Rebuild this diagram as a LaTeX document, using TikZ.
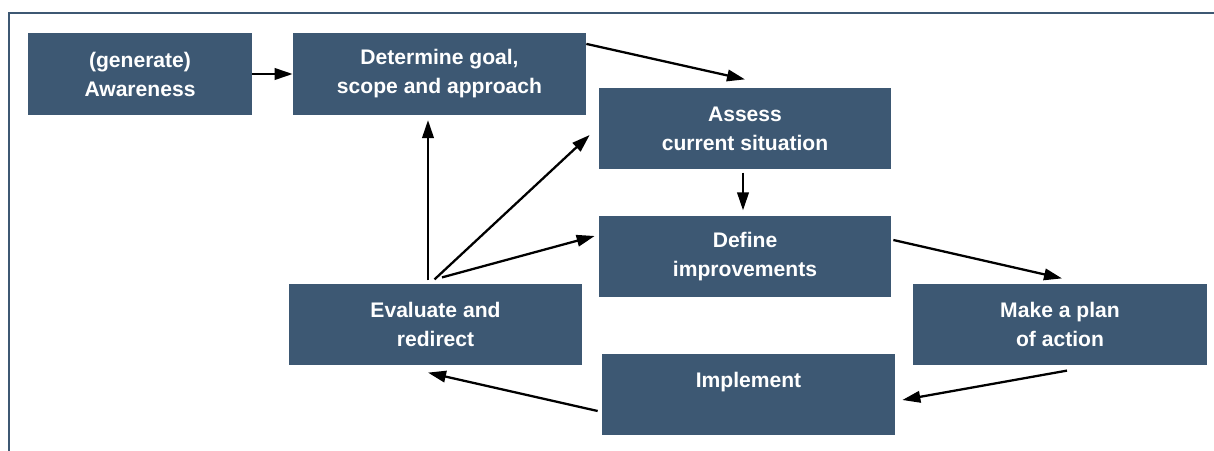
\documentclass[tikz,border=0pt]{standalone}
\usepackage{fontspec}
\setmainfont{Liberation Sans}
\usetikzlibrary{calc,arrows.meta}

\definecolor{boxblue}{RGB}{61,88,115}

\tikzset{
  box/.style={fill=boxblue, text=white, align=center, inner sep=0pt,
    minimum height=16.3mm, font=\bfseries\fontsize{12}{16.5}\selectfont},
  flow/.style={-{Triangle[length=3.6mm,width=2.3mm]}, line width=1.3pt}
}

\begin{document}
\begin{tikzpicture}[x=0.2mm,y=-0.2mm]
    \useasboundingbox (0,0) rectangle (1214,451);
    % frame
    \draw[boxblue, line width=1.3pt] (9,451) -- (9,13) -- (1214,13);

    % steps of the cycle
    \node[box, minimum width=44.8mm] (aware) at (140,74) {(generate)\\Awareness};
    \node[box, minimum width=58.6mm] (goal) at (439.5,74) {Determine goal,\\scope and approach};
    \node[box, minimum width=58.4mm] (assess) at (745,128.5) {Assess\\current situation};
    \node[box, minimum width=58.4mm] (define) at (745,256.5) {Define\\improvements};
    \node[box, minimum width=58.8mm] (plan) at (1060,324.5) {Make a plan\\of action};
    \node[box, minimum width=58.6mm] (impl) at (748.5,394.5) {Implement\\\mbox{}};
    \node[box, minimum width=58.6mm] (eval) at (435.5,324.5) {Evaluate and\\redirect};

    % arrows
    \draw[flow] (aware) -- (goal);
    \draw[flow] ($(goal.north east)+(0,11)$) -- ($(assess.north)+(0,-8)$);
    \draw[flow, shorten <=0.6mm, shorten >=1mm] ($(assess.south)+(-2,0)$) -- ($(define.north)+(-2,0)$);
    \draw[flow] ($(define.east)+(2,-16.5)$) -- ($(plan.north)+(2,-5)$);
    \draw[flow] ($(plan.south)+(7,5)$) -- ($(impl.east)+(7,5.5)$);
    \draw[flow] ($(impl.west)+(-4,16.5)$) -- ($(eval.south)+(-7.5,7)$);

    % back from evaluation
    \draw[flow] ($(eval.north)+(-7.5,-3)$) -- ($(goal.south)+(-11.5,5)$);
    \draw[flow] ($(eval.north)+(-1,-4)$) -- ($(assess.west)+(-9,6.5)$);
    \draw[flow] ($(eval.north)+(6.5,-6)$) -- ($(define.west)+(-4,-20.5)$);
\end{tikzpicture}
\end{document}
